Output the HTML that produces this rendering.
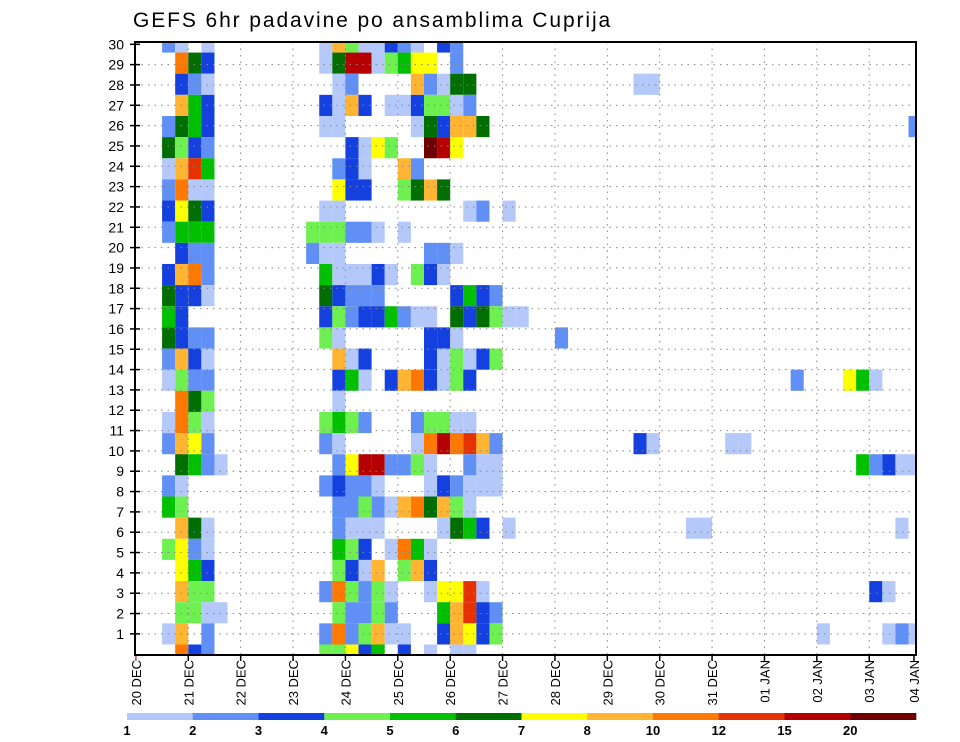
<!DOCTYPE html>
<html><head><meta charset="utf-8">
<style>
html,body{margin:0;padding:0;background:#fff;}
svg{display:block;font-family:"Liberation Sans",sans-serif;}
</style></head>
<body>
<svg id="chart" width="960" height="742" viewBox="0 0 960 742">
<text x="133" y="27" font-size="21" letter-spacing="1.9" fill="#000">GEFS 6hr padavine po ansamblima Cuprija</text>
<g id="cells"></g>
<g id="grid"></g>
<g id="yaxis"></g>
<g id="xaxis"></g>
<rect x="135" y="42" width="781" height="613" fill="none" stroke="#000" stroke-width="2"/>
<g id="legend"></g>
</svg>
<script>
// ---- data ----
const dayLabels = ["20 DEC","21 DEC","22 DEC","23 DEC","24 DEC","25 DEC","26 DEC","27 DEC","28 DEC","29 DEC","30 DEC","31 DEC","01 JAN","02 JAN","03 JAN","04 JAN"];
const memberLabels = [30,29,28,27,26,25,24,23,22,21,20,19,18,17,16,15,14,13,12,11,10,9,8,7,6,5,4,3,2,1];
const levelValues = [1,2,3,4,5,6,7,8,10,12,15,20];
const levelColors = ["#b4c8fa","#6090f5","#1440e0","#6ef050","#00c000","#006e00","#ffff00","#ffb432","#ff7800","#e63200","#b40000","#6e0000"];
// each row (top to bottom): [6-hour step index from 20 DEC 00z, precipitation value]
const row00 = [[2,2],[3,1],[5,1],[14,1],[15,8],[16,4],[17,1],[18,1],[19,3],[20,2],[21,1],[23,3],[24,2]];
const row01 = [[3,10],[4,6],[5,3],[14,1],[15,6],[16,15],[17,15],[18,1],[19,4],[20,5],[21,7],[22,7],[24,2]];
const row02 = [[3,3],[4,2],[5,1],[15,1],[16,2],[21,8],[22,2],[23,1],[24,6],[25,6],[38,1],[39,1]];
const row03 = [[3,8],[4,5],[5,3],[14,3],[15,1],[16,8],[17,3],[19,1],[20,1],[21,3],[22,4],[23,4],[24,1],[25,2]];
const row04 = [[2,2],[3,6],[4,5],[5,3],[14,1],[15,1],[21,1],[22,6],[23,3],[24,8],[25,8],[26,6],[59,2]];
const row05 = [[2,6],[3,4],[4,3],[5,2],[16,3],[17,1],[18,7],[19,4],[22,20],[23,15],[24,7]];
const row06 = [[2,1],[3,8],[4,12],[5,5],[15,2],[16,3],[17,1],[20,8],[21,2]];
const row07 = [[2,2],[3,10],[4,1],[5,1],[15,7],[16,3],[17,3],[20,4],[21,6],[22,8],[23,6]];
const row08 = [[2,3],[3,7],[4,6],[5,3],[14,1],[15,1],[25,1],[26,2],[28,1]];
const row09 = [[2,2],[3,5],[4,5],[5,5],[13,4],[14,4],[15,4],[16,2],[17,2],[18,1],[20,1]];
const row10 = [[3,3],[4,2],[5,2],[13,2],[14,1],[15,1],[22,2],[23,2],[24,1]];
const row11 = [[2,3],[3,8],[4,10],[5,2],[14,5],[15,1],[16,1],[17,1],[18,3],[19,1],[21,4],[22,3],[23,1]];
const row12 = [[2,6],[3,3],[4,3],[5,1],[14,6],[15,3],[16,2],[17,2],[18,2],[24,3],[25,5],[26,3],[27,2]];
const row13 = [[2,5],[3,3],[14,3],[15,4],[16,2],[17,3],[18,3],[19,5],[20,2],[21,1],[22,1],[24,6],[25,3],[26,6],[27,4],[28,1],[29,1]];
const row14 = [[2,6],[3,3],[4,2],[5,2],[14,4],[15,1],[22,3],[23,3],[24,1],[32,2]];
const row15 = [[2,2],[3,8],[4,3],[5,1],[15,8],[16,1],[17,3],[22,3],[23,1],[24,4],[25,1],[26,3],[27,4]];
const row16 = [[2,1],[3,4],[4,2],[5,2],[15,3],[16,5],[17,1],[19,3],[20,8],[21,10],[22,3],[23,1],[24,4],[25,3],[50,2],[54,7],[55,5],[56,1]];
const row17 = [[3,10],[4,6],[5,4],[15,1]];
const row18 = [[2,1],[3,10],[4,4],[5,1],[14,4],[15,5],[16,4],[17,2],[21,2],[22,4],[23,4],[24,1],[25,1]];
const row19 = [[2,2],[3,8],[4,7],[5,2],[14,2],[15,1],[21,1],[22,10],[23,15],[24,10],[25,12],[26,8],[27,2],[38,3],[39,1],[45,1],[46,1]];
const row20 = [[3,6],[4,5],[5,2],[6,1],[15,2],[16,7],[17,15],[18,15],[19,2],[20,2],[21,4],[22,1],[25,2],[26,1],[27,1],[55,5],[56,2],[57,3],[58,1],[59,1]];
const row21 = [[2,2],[3,1],[14,2],[15,3],[16,2],[17,2],[18,1],[22,1],[23,3],[24,2],[25,1],[26,1],[27,1]];
const row22 = [[2,5],[3,4],[15,2],[16,2],[17,4],[18,2],[19,1],[20,8],[21,10],[22,6],[23,8],[24,4],[25,1]];
const row23 = [[3,8],[4,6],[5,1],[15,2],[16,1],[17,1],[18,1],[23,1],[24,6],[25,5],[26,3],[28,1],[42,1],[43,1],[58,1]];
const row24 = [[2,4],[3,7],[4,2],[5,1],[15,5],[16,4],[17,3],[19,1],[20,10],[21,5],[22,1]];
const row25 = [[3,7],[4,5],[5,3],[15,4],[16,3],[17,1],[18,8],[20,4],[21,8],[22,3]];
const row26 = [[3,8],[4,4],[5,4],[14,2],[15,10],[16,4],[17,2],[18,4],[19,1],[22,1],[23,7],[24,7],[25,12],[26,1],[56,3],[57,1]];
const row27 = [[3,4],[4,4],[5,1],[6,1],[15,4],[16,2],[17,2],[18,4],[19,2],[23,5],[24,8],[25,12],[26,3],[27,2]];
const row28 = [[2,1],[3,8],[5,2],[14,2],[15,10],[16,2],[17,4],[18,8],[19,1],[20,1],[23,3],[24,8],[25,7],[26,3],[27,4],[52,1],[57,1],[58,2],[59,1]];
const row29 = [[3,10],[4,3],[5,2],[14,4],[15,4],[16,7],[17,3],[18,5],[20,3],[22,1],[24,1],[25,1]];
const rows = [row00,row01,row02,row03,row04,row05,row06,row07,row08,row09,row10,row11,row12,row13,row14,row15,row16,row17,row18,row19,row20,row21,row22,row23,row24,row25,row26,row27,row28,row29];

// ---- scales ----
const NS = "http://www.w3.org/2000/svg";
const PL = 135, PR = 916, PT = 42, PB = 655;
const X0 = 135.9, DAYW = 52.38, STEPW = DAYW / 4;
const ROWH = 21.14;
function xStep(t){ return X0 + STEPW * t; }
function xDay(d){ return X0 + DAYW * d; }
function yRowCenter(k){ return PT + ROWH * k; }
function yLabel(i){ return 44.3 + i * 20.33; }
function colorFor(v){
  let idx = 0;
  for (let i = 0; i < levelValues.length; i++) if (v >= levelValues[i]) idx = i;
  return levelColors[idx];
}
function mk(tag, attrs, parent){
  const e = document.createElementNS(NS, tag);
  for (const k in attrs) e.setAttribute(k, attrs[k]);
  parent.appendChild(e);
  return e;
}

// ---- cells ----
const gCells = document.getElementById("cells");
rows.forEach((row, k) => {
  const yc = yRowCenter(k);
  const y1 = Math.max(PT, yc - ROWH / 2), y2 = Math.min(PB, yc + ROWH / 2);
  row.forEach(([t, v]) => {
    const xa = xStep(t), xb = Math.min(PR, xStep(t + 1));
    const r = mk("rect", {x: xa.toFixed(2), y: y1.toFixed(2), width: (xb - xa).toFixed(2), height: (y2 - y1).toFixed(2), fill: colorFor(v)}, gCells);
    
    
  });
});

// ---- grid ----
const gGrid = document.getElementById("grid");
for (let d = 1; d < dayLabels.length - 1; d++) {
  const x = xDay(d);
  const l = mk("line", {x1: x, x2: x, y1: PT, y2: PB, stroke: "#888", "stroke-width": 1, "stroke-dasharray": "1.5,5"}, gGrid);
  
  
}
memberLabels.forEach((m, i) => {
  if (i === 0) return;
  const y = yLabel(i);
  const l = mk("line", {x1: PL, x2: PR, y1: y, y2: y, stroke: "#888", "stroke-width": 1, "stroke-dasharray": "1.5,5"}, gGrid);
  
  
});

// ---- y axis ----
const gY = document.getElementById("yaxis");
memberLabels.forEach((m, i) => {
  const y = yLabel(i);
  const tk = mk("line", {x1: PL - 5, x2: PL + 5, y1: y, y2: y, stroke: "#000", "stroke-width": 1.5}, gY);
  
  
  const tx = mk("text", {x: 124, y: y + 5, "font-size": 14, "text-anchor": "end", fill: "#000"}, gY);
  tx.textContent = m;
  
  
});

// ---- x axis ----
const gX = document.getElementById("xaxis");
dayLabels.forEach((lab, d) => {
  const x = d === dayLabels.length - 1 ? 914 : xDay(d);
  const tk = mk("line", {x1: x, x2: x, y1: PB, y2: PB + 6, stroke: d === 0 ? "#c44" : "#000", "stroke-width": 1.5}, gX);
  
  
  const tx = mk("text", {x: 0, y: 0, "font-size": 13, "text-anchor": "end", fill: "#000", transform: "translate(" + (x + 5) + "," + 660 + ") rotate(-90)"}, gX);
  tx.textContent = lab;
  
  
});

// ---- legend ----
const gL = document.getElementById("legend");
const LX0 = 127, LX1 = 916, segW = (LX1 - LX0) / levelColors.length;
levelColors.forEach((c, i) => {
  const r = mk("rect", {x: LX0 + i * segW, y: 713, width: segW + 0.3, height: 7, fill: c}, gL);
  
  
  const tx = mk("text", {x: LX0 + i * segW, y: 735, "font-size": 13, "font-weight": "bold", "text-anchor": "middle", fill: "#000"}, gL);
  tx.textContent = levelValues[i];
  
  
});
</script>
</body></html>
